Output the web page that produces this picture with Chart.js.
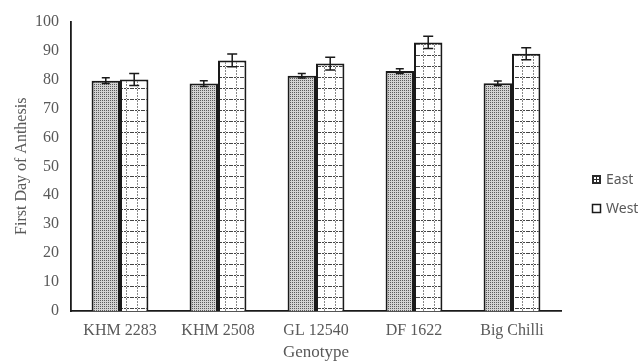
<!DOCTYPE html>
<html>
<head>
<meta charset="utf-8">
<script src="https://cdn.jsdelivr.net/npm/chart.js@4"></script>
<style>
  html, body { margin: 0; padding: 0; background: #fff; }
  #wrap { width: 640px; height: 363px; position: relative; }
</style>
</head>
<body>
<div id="wrap"><canvas id="chart"></canvas></div>
<script>
// Data
const categories = ['KHM 2283', 'KHM 2508', 'GL 12540', 'DF 1622', 'Big Chilli'];
const eastValues = [79.6, 78.6, 81.3, 82.9, 78.7];
const westValues = [80.0, 86.6, 85.5, 92.8, 88.9];
const eastErrors = [1.0, 1.0, 0.8, 0.8, 0.8];
const westErrors = [2.1, 2.2, 2.2, 2.1, 2.1];
const seriesNames = ['East', 'West'];

// Fill patterns
function makeEastPattern(ctx) {
    const c = document.createElement('canvas');
    c.width = 2; c.height = 2;
    const p = c.getContext('2d');
    p.fillStyle = '#d2d2d2';
    p.fillRect(0, 0, 2, 2);
    p.fillStyle = '#5a5a5a';
    p.fillRect(0, 0, 1, 1);
    return ctx.createPattern(c, 'repeat');
}

function makeWestPattern(ctx) {
    const c = document.createElement('canvas');
    c.width = 11; c.height = 11;
    const p = c.getContext('2d');
    p.fillStyle = '#ffffff';
    p.fillRect(0, 0, 11, 11);
    // dashed horizontal line
    p.fillStyle = '#444';
    for (let x = 0; x < 11; x += 3) p.fillRect(x, 0, 2, 1);
    // dotted vertical line
    p.fillStyle = '#888';
    for (let y = 1; y < 11; y += 3) p.fillRect(5, y, 1, 2);
    return ctx.createPattern(c, 'repeat');
}

const canvas = document.getElementById('chart');
const ctx = canvas.getContext('2d');
const eastFill = makeEastPattern(ctx);
const westFill = makeWestPattern(ctx);

// Error bars drawn through the value scale
const errorBars = {
    id: 'errorBars',
    afterDatasetsDraw(chart) {
        const yScale = chart.scales.y;
        const errs = [eastErrors, westErrors];
        const c = chart.ctx;
        c.save();
        c.strokeStyle = '#1a1a1a';
        c.lineWidth = 1.5;
        chart.data.datasets.forEach((ds, i) => {
            const meta = chart.getDatasetMeta(i);
            meta.data.forEach((bar, j) => {
                const v = ds.data[j];
                const e = errs[i][j];
                const top = yScale.getPixelForValue(v + e);
                const bot = yScale.getPixelForValue(v - e);
                const cap = i === 0 ? 4 : 5;
                c.beginPath();
                c.moveTo(bar.x, top); c.lineTo(bar.x, bot);
                c.moveTo(bar.x - cap, top); c.lineTo(bar.x + cap, top);
                c.moveTo(bar.x - cap, bot); c.lineTo(bar.x + cap, bot);
                c.stroke();
            });
        });
        c.restore();
    }
};

// Legend on the right side
const sideLegend = {
    id: 'sideLegend',
    afterDraw(chart) {
        const c = chart.ctx;
        const x = 592;
        const rows = [180, 209];
        c.save();
        c.font = '14px "Noto Sans", sans-serif';
        c.textBaseline = 'middle';
        seriesNames.forEach((name, i) => {
            const y = rows[i];
            if (i === 0) {
                c.fillStyle = '#2a2a2a';
                c.fillRect(x, y - 5, 9, 9);
                c.fillStyle = '#ffffff';
                c.fillRect(x + 2, y - 3, 2, 2);
                c.fillRect(x + 5, y - 3, 2, 2);
                c.fillRect(x + 2, y, 2, 2);
                c.fillRect(x + 5, y, 2, 2);
            } else {
                c.strokeStyle = '#1a1a1a';
                c.lineWidth = 1.5;
                c.strokeRect(x + 0.5, y - 4.5, 8, 8);
            }
            c.fillStyle = '#595959';
            c.fillText(name, x + 14, y);
        });
        c.restore();
    }
};

new Chart(ctx, {
    type: 'bar',
    data: {
        labels: categories,
        datasets: [{
            label: seriesNames[0],
            data: eastValues,
            backgroundColor: eastFill,
            borderColor: '#1a1a1a',
            borderWidth: 2,
            borderSkipped: 'bottom'
        }, {
            label: seriesNames[1],
            data: westValues,
            backgroundColor: westFill,
            borderColor: '#1a1a1a',
            borderWidth: 2,
            borderSkipped: 'bottom'
        }]
    },
    options: {
        responsive: true,
        maintainAspectRatio: false,
        animation: false,
        layout: { padding: { top: 20, right: 79, left: 0, bottom: 0 } },
        datasets: { bar: { categoryPercentage: 0.58, barPercentage: 1.0 } },
        plugins: {
            legend: { display: false },
            tooltip: { enabled: false }
        },
        scales: {
            x: {
                grid: { display: false, drawTicks: false },
                border: { display: true, color: '#1a1a1a', width: 1.8 },
                ticks: {
                    padding: 10,
                    color: '#595959',
                    font: { family: '"Liberation Serif", serif', size: 16 }
                },
                title: {
                    display: true,
                    text: 'Genotype',
                    color: '#595959',
                    padding: { top: 0, bottom: 0 },
                    font: { family: '"Liberation Serif", serif', size: 17 }
                },
                afterFit(scale) { scale.height = 52; }
            },
            y: {
                min: 0,
                max: 100,
                grid: { display: false, drawTicks: false },
                border: { display: true, color: '#1a1a1a', width: 1.8 },
                ticks: {
                    stepSize: 10,
                    padding: 12,
                    color: '#595959',
                    font: { family: '"Liberation Serif", serif', size: 16 }
                },
                title: {
                    display: true,
                    text: 'First Day of Anthesis',
                    color: '#595959',
                    padding: { top: 12, bottom: 0 },
                    font: { family: '"Liberation Serif", serif', size: 16 }
                },
                afterFit(scale) { scale.width = 71; }
            }
        }
    },
    plugins: [errorBars, sideLegend]
});
</script>
</body>
</html>
